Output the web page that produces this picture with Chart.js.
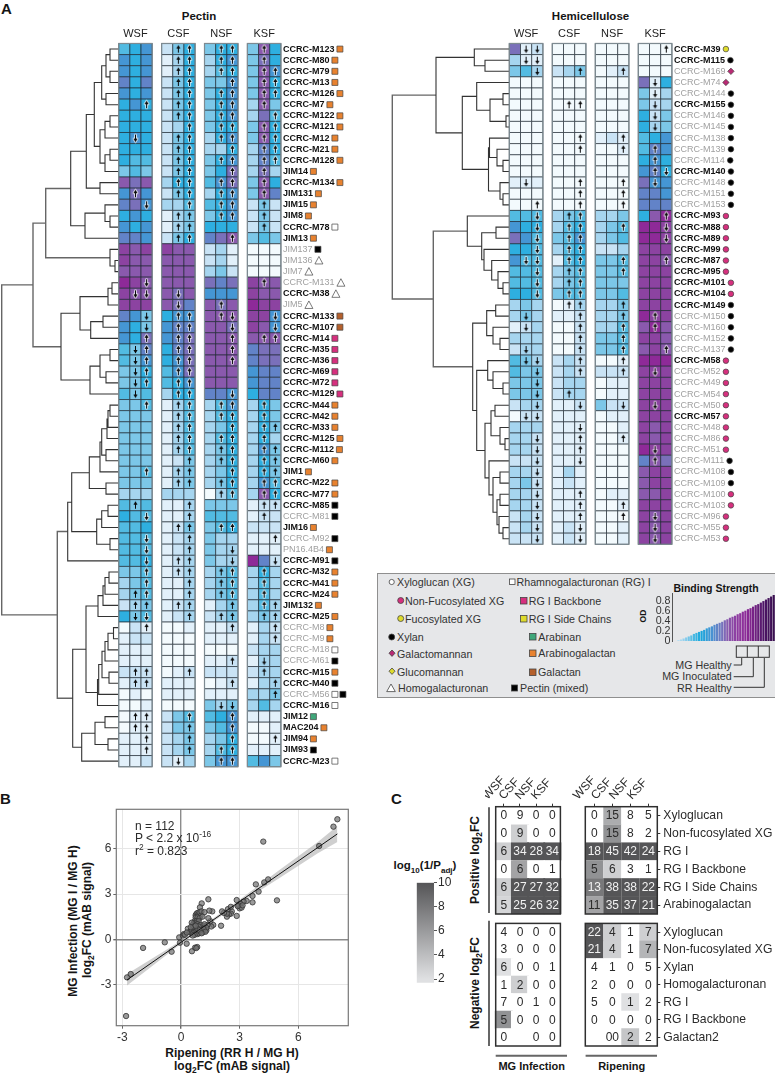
<!DOCTYPE html>
<html>
<head>
<meta charset="utf-8">
<title>Cell wall glycan profiling</title>
<script src="https://cdn.jsdelivr.net/npm/chart.js@4/dist/chart.umd.min.js"></script>
<style>
  html, body { margin: 0; padding: 0; background: #fff; overflow: hidden; }
  #page { position: relative; width: 775px; height: 1073px; overflow: hidden; font-family: "Liberation Sans", Arial, sans-serif; color: #2b2b2b; }
  canvas, svg { position: absolute; }
  .t { position: absolute; white-space: nowrap; line-height: 1; }
  .c { transform: translate(-50%, -50%); }
  .m { transform: translateY(-50%); }
  .v { transform: translate(-50%, -50%) rotate(-90deg); }
  .b { font-weight: bold; color: #151515; }
  .leg { font-size: 10.7px; color: #333; }
  sub, sup { font-size: 70%; line-height: 0; }
  #legendBox { position: absolute; left: 377px; top: 573px; width: 400px; height: 123px; background: #e6e7e9; border: 1.5px solid #8f8f8f; box-sizing: content-box; }
</style>
</head>
<body>
<div id="page">
  <div class="t b" style="left:1px;top:1px;font-size:15px">A</div>
  <div class="t b" style="left:0;top:791px;font-size:15px">B</div>
  <div class="t b" style="left:391px;top:791px;font-size:15px">C</div>
  <div class="t b c" style="left:199px;top:16.5px;font-size:11.5px">Pectin</div>
  <div class="t b c" style="left:590.5px;top:16.5px;font-size:11.5px">Hemicellulose</div>

  <div id="legendBox"></div>
  <svg width="775" height="1073" style="left:0;top:0">
    <g stroke="#444" stroke-width="0.8">
      <circle cx="391.7" cy="582" r="2.6" fill="#fff"/>
      <circle cx="400.7" cy="600.5" r="3" fill="#d6307e"/>
      <circle cx="400.7" cy="618.5" r="3" fill="#dedb2c"/>
      <circle cx="391.7" cy="637" r="3" fill="#000"/>
      <path d="M392 650l3 3.2-3 3.2-3-3.2z" fill="#b92a74"/>
      <path d="M392 668l3 3.2-3 3.2-3-3.2z" fill="#dedb2c"/>
      <path d="M391 684l4.3 7.6h-8.6z" fill="#fff"/>
      <rect x="509.5" y="579" width="5.5" height="5.5" fill="#fff"/>
      <rect x="520.5" y="597.5" width="6.5" height="6.5" fill="#d6307e"/>
      <rect x="520.5" y="615.5" width="6.5" height="6.5" fill="#dedb2c"/>
      <rect x="529.5" y="633.5" width="6.5" height="6.5" fill="#3fa77a"/>
      <rect x="529.5" y="650" width="6.5" height="6.5" fill="#e8822f"/>
      <rect x="529.5" y="669" width="6.5" height="6.5" fill="#b5602c"/>
      <rect x="511.5" y="685" width="6" height="6" fill="#000"/>
    </g>
    <g fill="none" stroke="#333" stroke-width="1">
      <rect x="736.3" y="646" width="33" height="11.3"/>
      <path d="M747.3 646v11.3M758.3 646v11.3"/>
      <path d="M733.7 665h8v-7M733.7 676.7h19.6v-18.7M733.7 687.3h30.6v-29.3"/>
    </g>
    <g stroke="#666" stroke-width="2">
      <path d="M489 807.3V913M489 920.7V1046"/>
      <path d="M495.7 1055.7H567M585.6 1055.7H657"/>
    </g>
  </svg>

  <div class="t m leg" style="left:397px;top:582px">Xyloglucan (XG)</div>
  <div class="t m leg" style="left:405px;top:600.5px">Non-Fucosylated XG</div>
  <div class="t m leg" style="left:405px;top:618.5px">Fucosylated XG</div>
  <div class="t m leg" style="left:397px;top:636.5px">Xylan</div>
  <div class="t m leg" style="left:397px;top:653.5px">Galactomannan</div>
  <div class="t m leg" style="left:397px;top:671.5px">Glucomannan</div>
  <div class="t m leg" style="left:398px;top:688px">Homogalacturonan</div>
  <div class="t m leg" style="left:516.5px;top:582px">Rhamnogalacturonan (RG) I</div>
  <div class="t m leg" style="left:528.7px;top:601px">RG I Backbone</div>
  <div class="t m leg" style="left:528.7px;top:619px">RG I Side Chains</div>
  <div class="t m leg" style="left:538.3px;top:636.7px">Arabinan</div>
  <div class="t m leg" style="left:538.3px;top:653.3px">Arabinogalactan</div>
  <div class="t m leg" style="left:538px;top:672.3px">Galactan</div>
  <div class="t m leg" style="left:520px;top:688px">Pectin (mixed)</div>
  <div class="t b c" style="left:716px;top:588px;font-size:10.5px">Binding Strength</div>
  <div class="t b v" style="left:642.7px;top:615.7px;font-size:8.5px">OD</div>
  <div class="t m leg" style="right:43.3px;top:664.7px">MG Healthy</div>
  <div class="t m leg" style="right:43.3px;top:676px">MG Inoculated</div>
  <div class="t m leg" style="right:43.3px;top:688px">RR Healthy</div>

  <div class="t b v" style="left:73px;top:921px;font-size:12px">MG Infection (MG I / MG H)</div>
  <div class="t b v" style="left:87px;top:920px;font-size:12px">log<sub>2</sub>FC (mAB signal)</div>
  <div class="t b c" style="left:232px;top:1053px;font-size:12px">Ripening (RR H / MG H)</div>
  <div class="t b c" style="left:232px;top:1066px;font-size:12px">log<sub>2</sub>FC (mAB signal)</div>

  <div class="t b v" style="left:475px;top:860px;font-size:12px">Positive log<sub>2</sub>FC</div>
  <div class="t b v" style="left:475px;top:983px;font-size:12px">Negative log<sub>2</sub>FC</div>
  <div class="t b c" style="left:531.7px;top:1066px;font-size:11px">MG Infection</div>
  <div class="t b c" style="left:621.7px;top:1066px;font-size:11px">Ripening</div>
  <div class="t b c" style="left:425px;top:866px;font-size:11.5px">log<sub>10</sub>(1/P<sub>adj</sub>)</div>

  <canvas id="pectinChart" width="350" height="775" style="left:0;top:0"></canvas>
  <canvas id="hemiChart" width="395" height="555" style="left:380px;top:0"></canvas>
  <canvas id="rampChart" width="130" height="60" style="left:645px;top:590px"></canvas>
  <canvas id="fcChart" width="265" height="245" style="left:90px;top:800px"></canvas>
  <canvas id="mgPosChart" width="90" height="146" style="left:485px;top:770px"></canvas>
  <canvas id="ripPosChart" width="205" height="146" style="left:570px;top:770px"></canvas>
  <canvas id="mgNegChart" width="90" height="132" style="left:485px;top:918px"></canvas>
  <canvas id="ripNegChart" width="205" height="132" style="left:570px;top:918px"></canvas>
  <canvas id="sigBar" width="55" height="110" style="left:405px;top:877px"></canvas>

  <div class="t m" style="left:135px;top:826px;font-size:12px">n = 112</div>
  <div class="t m" style="left:135px;top:838px;font-size:12px">P &lt; 2.2 x 10<sup>-16</sup></div>
  <div class="t m" style="left:135px;top:851px;font-size:12px">r<sup>2</sup> = 0.823</div>
</div>

<script>
// fractions across the top of each heatmap
const fractions = ['WSF', 'CSF', 'NSF', 'KSF'];

// ---- panel A, pectin antibodies
const pectinNames = ['CCRC-M123','CCRC-M80','CCRC-M79','CCRC-M13','CCRC-M126','CCRC-M7','CCRC-M122','CCRC-M121','CCRC-M12','CCRC-M21','CCRC-M128','JIM14','CCRC-M134','JIM131','JIM15','JIM8','CCRC-M78','JIM13','JIM137','JIM136','JIM7','CCRC-M131','CCRC-M38','JIM5','CCRC-M133','CCRC-M107','CCRC-M14','CCRC-M35','CCRC-M36','CCRC-M69','CCRC-M72','CCRC-M129','CCRC-M44','CCRC-M42','CCRC-M33','CCRC-M125','CCRC-M112','CCRC-M60','JIM1','CCRC-M22','CCRC-M77','CCRC-M85','CCRC-M81','JIM16','CCRC-M92','PN16.4B4','CCRC-M91','CCRC-M32','CCRC-M41','CCRC-M24','JIM132','CCRC-M25','CCRC-M8','CCRC-M9','CCRC-M18','CCRC-M61','CCRC-M15','CCRC-M40','CCRC-M56','CCRC-M16','JIM12','MAC204','JIM94','JIM93','CCRC-M23'];
const pectinGrey = ['JIM137','JIM136','JIM7','CCRC-M131','JIM5','CCRC-M81','CCRC-M92','PN16.4B4','CCRC-M8','CCRC-M9','CCRC-M18','CCRC-M61','CCRC-M56'];
const pectinMarks = ['ag','ag','ag','ag','ag','ag','ag','ag','ag','ag','ag','ag','ag','ag','ag','ag','rg','ag','pec','hg','hg','hg','hg','hg','gal','gal','bb','bb','bb','bb','bb','bb','ag','ag','ag','ag','ag','ag','ag','ag','ag','pec','pec','ag','pec','ag','pec','ag','ag','ag','ag','ag','ag','ag','rg','pec','ag','pec','rg+pec','rg','ara','ag','ag','pec','rg'];
// binding strength as a step on the OD ramp, 0 palest .. 12 deepest purple
const pectinOD = [
  [5,6,7, 2,4,6, 4,6,6, 4,10,6],[7,6,7, 1,3,6, 3,6,7, 4,9,6],[7,6,7, 1,3,6, 3,5,6, 4,10,7],[8,6,8, 2,4,6, 4,4,7, 4,10,6],
  [7,6,7, 2,4,6, 4,6,7, 4,10,6],[6,7,6, 2,4,6, 4,6,7, 3,10,4],[6,6,6, 2,4,6, 4,6,7, 3,9,5],[6,6,6, 2,3,6, 4,6,6, 4,10,6],
  [6,7,6, 2,4,6, 3,6,7, 4,10,6],[6,6,6, 2,4,6, 3,3,6, 3,8,6],[6,5,5, 2,4,6, 4,6,7, 3,8,5],[4,5,4, 2,4,6, 4,6,9, 3,9,3],
  [10,9,10, 3,6,6, 5,7,9, 4,10,6],[7,9,7, 2,4,6, 3,6,7, 4,10,8],[8,9,7, 3,3,5, 5,6,7, 2,4,2],[6,7,6, 1,3,4, 4,6,7, 2,4,2],
  [7,6,7, 1,3,4, 6,6,6, 2,4,2],[8,8,7, 2,4,6, 8,9,10, 4,5,4],[11,10,11, 11,10,10, 2,3,1, 0,0,0],[11,10,10, 10,10,10, 2,3,1, 0,0,0],
  [10,10,10, 10,10,10, 3,4,2, 0,0,0],[12,11,10, 10,10,10, 9,8,9, 11,10,10],[11,10,10, 10,9,10, 7,7,7, 11,10,10],[11,11,11, 10,9,8, 10,9,10, 12,11,11],
  [8,7,4, 6,7,7, 10,10,10, 11,11,7],[7,6,4, 7,8,8, 10,10,9, 11,10,7],[7,6,9, 7,8,9, 10,10,10, 10,10,10],[5,4,8, 6,8,9, 10,10,10, 8,9,9],
  [5,4,7, 6,7,9, 10,10,10, 8,9,9],[4,4,6, 5,7,9, 10,10,10, 7,8,8],[4,4,6, 5,6,7, 10,10,10, 7,8,8],[5,4,5, 3,6,6, 8,8,7, 6,8,8],
  [4,4,5, 1,3,5, 3,5,7, 3,6,4],[4,4,4, 1,3,5, 3,5,6, 3,6,4],[4,4,4, 1,3,5, 3,4,6, 3,6,4],[4,4,4, 1,3,5, 3,5,6, 3,6,3],
  [4,4,4, 1,3,5, 3,4,6, 3,7,4],[4,4,4, 1,2,4, 3,4,6, 3,6,4],[4,4,5, 1,3,4, 3,4,6, 3,6,4],[4,4,4, 1,3,4, 3,4,6, 3,7,5],
  [3,3,3, 3,3,3, 0,3,5, 3,10,6],[5,4,5, 1,1,3, 4,4,4, 1,2,2],[6,5,5, 1,1,3, 5,5,5, 1,2,2],[5,5,6, 1,2,4, 4,5,6, 2,2,2],
  [5,5,5, 1,2,3, 4,3,3, 1,1,1],[5,5,5, 1,2,3, 4,3,3, 1,1,1],[5,5,6, 1,2,3, 4,3,3, 12,8,2],[4,4,5, 1,2,3, 3,4,5, 3,6,3],
  [3,4,5, 1,1,3, 3,4,5, 3,5,3],[3,4,5, 1,1,3, 3,4,5, 3,5,3],[2,3,4, 1,2,3, 1,3,4, 3,5,3],[6,4,5, 1,2,3, 2,3,4, 3,4,3],
  [0,2,1, 0,0,1, 1,1,2, 1,3,2],[1,2,2, 0,0,0, 1,1,1, 1,3,2],[1,1,1, 0,0,0, 0,0,0, 2,3,3],[1,1,1, 0,0,0, 1,1,2, 1,3,3],
  [2,2,2, 0,1,2, 2,2,2, 2,3,3],[1,2,2, 1,1,1, 0,1,2, 1,3,3],[0,1,0, 1,1,1, 1,1,1, 3,3,4],[0,0,1, 0,0,0, 4,3,4, 3,5,3],
  [0,1,1, 2,4,5, 5,6,7, 1,1,1],[0,1,1, 2,4,4, 4,5,7, 0,0,1],[1,1,1, 2,3,4, 3,4,6, 0,0,1],[1,1,1, 2,3,4, 3,5,6, 1,1,1],[1,1,2, 2,1,3, 4,7,7, 5,7,4]
];
// u / d = significant change up or down
const pectinArrows = [
  '... .uu .uu .u.','... .uu .uu .u.','... .uu .uu .uu','... .uu ..u .uu','... .uu .uu .uu','..u .uu .uu .u.','... .uu .uu ..u','... ..u .uu .uu',
  '.d. .uu .uu .uu','... .uu ..u .uu','... .uu .uu .uu','... .uu ..u .u.','... .uu .uu .u.','.u. .uu .uu .u.','..d ..u .uu .u.','... .uu .uu .u.',
  '... .uu ... .u.','... .uu ..u ...','... ... ... ...','... ... ... ...','... ... ... ...','..d ... ... .u.','.dd .d. ... ...','... .d. .u. ...',
  '..d .uu .ud ..d','..d .uu ..d ..d','..u .uu ..u .uu','.du .uu ..u ...','.du .uu ..u ...','.du .uu ... ...','.du .uu ... ...','.d. .uu ..d ...',
  '..u .uu .uu .u.','... .uu .uu .u.','... .uu ..u .uu','... .uu .uu .u.','... .uu .uu .uu','... ..u .uu .uu','..u .uu ..u .uu','... .uu .uu .uu',
  '... ... .uu .uu','.u. ..u ... .uu','..d ..u ... .u.','... .uu .uu ...','..d ..u ... ..u','..d ..u ..d ...','..d .uu ..d ..d','..u .uu .uu .u.',
  '..u ..u .uu .u.','.uu ..u .uu .u.','.uu .uu ..u .uu','.dd ..u .uu .uu','..u ... ..u ..u','... ... ... ..u','... ... ... ...','... ... ..u .d.',
  '.uu ..u ... .u.','.uu ... ..u ..u','... ... ... ..u','... ... .dd ...','.uu ..u ..u ...','.uu ..u ..u ...','..u ..u ..u ..u','..u ..u .uu ...','... .d. .uu ...'
];
// merge heights of the clustering, [height, upper, lower], 0 = next antibody down
const pectinTree = [1.7,
  [33,
    [45.7,
      [70.7,
        [86.3,
          [94.3,
            [101.7, [106, [110,0,0], [110,0,0]], [106,0,0]],
            [100, [105, [110,0,0], 0], [105, [110,0,0], 0]]],
          [100,0,0]],
        [85, [105, 0, [110,0,0]], 0]],
      [110, 0, [115,0,0]]],
    [61,
      [80, [108, [112,0,0], 0], [90.7, [103,0,0], 0]],
      [90, [100, [110,0,0], [106,0,0]], 0]]],
  [57.3,
    [67.7,
      [71.7,
        [89.3, [100, [101.7, [107, [108, [110,0,0], 0], 0], [106,0,0]], 0], [106,0,0]],
        [96.7, [101.7, [108,0,0], 0], [110,0,0]]],
      0],
    [72.7,
      [86,
        [98, [103, [105, [109,0,0], 0], 0], 0],
        [97.5, [98.7, [102, [105, [108, [113.5,0,0], 0], 0], [109,0,0]], 0], 0]],
      [81.7, [95, [105,0,0], [108,0,0]], 0]]]
];

// ---- panel A, hemicellulose antibodies
const hemiNames = ['CCRC-M39','CCRC-M115','CCRC-M169','CCRC-M74','CCRC-M144','CCRC-M155','CCRC-M146','CCRC-M145','CCRC-M138','CCRC-M139','CCRC-M114','CCRC-M140','CCRC-M148','CCRC-M151','CCRC-M153','CCRC-M93','CCRC-M88','CCRC-M89','CCRC-M99','CCRC-M87','CCRC-M95','CCRC-M101','CCRC-M104','CCRC-M149','CCRC-M150','CCRC-M160','CCRC-M152','CCRC-M137','CCRC-M58','CCRC-M52','CCRC-M49','CCRC-M54','CCRC-M50','CCRC-M57','CCRC-M48','CCRC-M86','CCRC-M51','CCRC-M111','CCRC-M108','CCRC-M109','CCRC-M100','CCRC-M103','CCRC-M96','CCRC-M55','CCRC-M53'];
const hemiGrey = ['CCRC-M169','CCRC-M74','CCRC-M144','CCRC-M146','CCRC-M145','CCRC-M138','CCRC-M139','CCRC-M114','CCRC-M148','CCRC-M151','CCRC-M153','CCRC-M150','CCRC-M160','CCRC-M152','CCRC-M137','CCRC-M52','CCRC-M49','CCRC-M54','CCRC-M50','CCRC-M48','CCRC-M86','CCRC-M51','CCRC-M111','CCRC-M108','CCRC-M109','CCRC-M100','CCRC-M103','CCRC-M96','CCRC-M55','CCRC-M53'];
const hemiMarks = ['fxg','xyl','gm','gm','xyl','xyl','xyl','xyl','xyl','xyl','xyl','xyl','xyl','xyl','xyl','nxg','nxg','nxg','nxg','nxg','nxg','nxg','nxg','xyl','xyl','xyl','xyl','xyl','nxg','nxg','nxg','nxg','nxg','nxg','nxg','nxg','nxg','xyl','xyl','xyl','nxg','nxg','nxg','nxg','nxg'];
const hemiOD = [
  [9,1,2, 0,0,0, 0,0,0, 0,0,0],[3,1,1, 0,0,0, 0,0,0, 0,0,0],[4,5,3, 2,3,4, 0,1,2, 0,0,0],[0,0,0, 0,0,0, 0,0,0, 9,1,6],
  [0,0,0, 0,0,0, 0,0,0, 4,1,3],[0,0,0, 0,0,0, 0,0,0, 4,2,3],[0,0,0, 0,0,0, 0,0,0, 6,2,4],[0,0,0, 0,0,0, 0,0,0, 6,3,4],
  [0,0,0, 0,0,0, 1,2,1, 5,6,7],[0,0,0, 0,0,0, 0,0,1, 5,8,7],[0,0,0, 0,0,0, 0,0,0, 6,7,6],[0,0,0, 0,0,0, 0,0,0, 7,8,6],
  [1,1,1, 0,0,0, 0,0,0, 9,7,7],[0,0,0, 0,0,0, 0,0,0, 8,8,7],[0,0,0, 0,0,0, 0,0,0, 8,8,8],[5,5,5, 3,4,5, 3,3,4, 6,10,12],
  [7,6,6, 3,5,6, 3,4,5, 12,12,11],[9,7,5, 4,5,7, 3,4,5, 12,12,11],[6,6,5, 3,5,6, 2,2,3, 11,11,11],[7,5,5, 1,5,6, 4,4,5, 11,11,10],
  [5,5,5, 3,4,5, 4,4,5, 11,11,11],[5,5,5, 3,4,5, 4,4,4, 11,11,11],[6,6,5, 4,5,5, 4,4,5, 11,11,11],[3,4,3, 0,1,3, 3,3,4, 11,11,11],
  [3,4,3, 1,1,2, 3,3,4, 12,11,11],[1,2,3, 0,0,2, 3,3,5, 10,12,10],[3,3,3, 0,0,2, 4,4,5, 11,11,10],[2,3,3, 0,0,2, 4,4,5, 10,11,10],
  [5,4,3, 2,3,2, 0,0,1, 12,12,12],[5,4,4, 2,3,2, 2,2,2, 11,11,11],[4,4,4, 2,3,3, 0,1,1, 11,11,11],[4,4,4, 2,3,3, 0,1,1, 11,11,11],
  [2,3,3, 1,1,2, 4,2,2, 11,11,11],[0,2,2, 1,1,1, 0,1,1, 11,11,11],[3,3,3, 1,1,1, 0,0,1, 11,10,11],[3,3,2, 1,1,1, 0,0,1, 11,10,11],
  [3,3,2, 1,1,1, 0,0,0, 12,11,11],[2,2,2, 1,1,1, 0,0,0, 8,10,9],[3,3,2, 1,3,1, 0,0,0, 10,11,11],[3,4,2, 1,2,1, 0,0,0, 10,11,11],
  [3,3,2, 1,1,1, 0,1,1, 10,10,11],[3,3,2, 1,1,1, 0,0,1, 11,11,11],[2,3,2, 1,1,1, 0,0,0, 11,10,11],[2,3,2, 1,2,1, 0,0,1, 11,10,11],[2,2,2, 1,2,1, 0,0,1, 11,10,11]
];
const hemiArrows = [
  '.dd ... ... ..u','.dd ... ... ...','..d ..u ..u ...','... ... ... .d.','... ... ... .d.','... .uu ... .d.','... ... ... .d.','... ... ... .d.',
  '... ..u ..u ...','... ..u ..u .u.','... ... ... .u.','... ... ... .ud','.d. ..u ..u .d.','... ..u ..u ...','..u ..u ..u ...','..d .uu ... ..u',
  '..d .uu ..u ..d','..d .uu ... ..d','..d .uu ... ...','.dd .uu ..u ..u','..d .uu ..u ...','..d .uu ... ...','..d .uu ... ...','... .uu ..u ...',
  '.d. ..u ..u .u.','.d. ..u ..u .u.','... ..u ..u ...','.d. ..u ..u ..u','.dd ..u ..u ...','..d ..u ..u .d.','..d ... ... ...','..d .u. ... ...',
  '..d ..d ..d .d.','.dd ... ... ...','... ..d ... ...','..d ..u ..u ...','..d ..u ... .d.','..d ..d ... .u.','..d ... ... ...','..d ... ... ...',
  '..d ..u ... ...','..d ..u ..u ...','..d ..u ..u .d.','..d ..d ... .d.','..d ..d ... .d.'
];
const hemiTree = [392.3,
  [436,
    [474.3, 0, [485,0,0]],
    [462.3,
      [476.7, 0, [490, [503,0,0], [506,0,0]]],
      [488.5, [489.5, 0, [497, 0, [503,0,0]]], [500, 0, [503,0,0]]]]],
  [433.3,
    [467.3, 0, [481.7, [496,0,0], [484, 0, [491.7, 0, [498, 0, [503,0,0]]]]]],
    [472.7,
      [486.7, [495.7,0,0], [493, 0, [500,0,0]]],
      [476.7,
        [487.7, 0, [493, 0, [503,0,0]]],
        [485,
          [491, [495,0,0], [500, 0, [505,0,0]]],
          [489, 0, [493, [500,0,0], [497, [500,0,0], [499, 0, [503,0,0]]]]]]]]]
];

// ---- binding strength key
const rampOD = [0,0,0.02,0.03,0.05,0.07,0.09,0.11,0.14,0.16,0.18,0.2,0.22,0.25,0.27,0.29,0.32,0.34,0.36,0.38,0.41,0.43,0.46,0.48,0.5,0.53,0.55,0.58,0.6,0.63,0.65,0.68,0.71,0.73,0.76,0.79,0.82,0.85,0.88,0.91];
const rampTicks = [0, 0.2, 0.4, 0.6, 0.8];

// ---- panel B, log2FC per antibody
const ripeningFC = [8,7.8,7.07,4.21,3.83,4.26,4.46,3.97,3.66,3.66,4.91,3.36,2.85,1.4,1.06,0.97,-2.81,-2.76,-2.57,-1.94,-0.83,-0.48,-0.09,-0.05,0.29,0.56,0.72,0.83,0.78,
  3.2,3.05,3,2.95,3.1,2.9,3.15,2.85,2.6,2.55,2.4,2.45,2.35,2.35,2.55,2.2,2.1,2.05,1.65,1.55,1.6,1.45,1.5,1.4,
  0.75,0.8,0.85,0.9,0.95,1,0.75,0.85,0.95,1.05,1.2,1.1,0.7,0.8,0.9,0.65,0.75,0.6,0.85,0.55,
  0.1,0.15,0.2,0.35,0.45,0.5,0.55,0.6,0.65,0.7,0.75,0.8,0.85,0.9,0.95,1,1.05,1.1,1.15,1.2,1.25,1.3,1,0.9,1.35,1.1,0.7,0.6,1.2,0.3,1.3,
  0.65,0.85,1.15,0.95,0.5,1.25,0.75,1.05];
const infectionFC = [7.95,7.46,6.18,6.47,3.64,3.77,3.97,3.16,2.87,2.45,2.58,2.54,2.6,2.65,2.38,2.12,-5.08,-2.52,-2.3,-0.57,-0.2,-0.82,0.13,-0.22,-0.29,-0.79,-0.55,-0.51,-0.58,
  2.5,2.35,2.05,2.25,2.1,2.2,2.25,1.55,1.85,1.7,2,1.65,1.5,1.7,2.15,1.75,1.85,0.9,0.95,0.85,1.85,1.9,1.2,1.4,
  1.6,1.7,1.75,1.65,1.8,1.55,1.45,1.45,1.4,1.85,1.8,1.5,1.2,1.2,1.2,1.05,1.05,0.95,1,1.1,
  0.25,0.35,0.3,0.7,0.5,0.45,0.6,0.4,0.65,0.5,0.7,0.55,0.35,0.4,0.75,0.5,0.85,0.6,0.9,0.55,0.7,0.6,0.95,0.85,0.95,0.45,0.3,0.25,1,0.45,0.75,
  0.85,0.7,0.7,0.6,0.8,0.5,0.9,0.4];
const fitX = [-2.76, 0, 1, 3, 5, 7, 8];
const fitY = [-2.69, -0.2, 0.7, 2.5, 4.29, 6.08, 6.98];
const fitUpper = [-2.3, -0.1, 0.8, 2.62, 4.55, 6.45, 7.5];
const fitLower = [-3.05, -0.3, 0.6, 2.38, 4.03, 5.7, 6.45];
const fcTicks = [-3, 0, 3, 6];

// ---- panel C, counts of changed antibodies and their enrichment
const posClasses = ['Xyloglucan','Non-fucosylated XG','RG I','RG I Backbone','RG I Side Chains','Arabinogalactan'];
const negClasses = ['Xyloglucan','Non-fucosylated XG','Xylan','Homogalacturonan','RG I','RG I Backbone','Galactan2'];
const mgPosCounts = [[0,9,0,0],[0,9,0,0],[6,34,28,34],[0,6,0,1],[6,27,27,32],[5,25,26,32]];
const mgPosSig = [[0,0,0,0],[0,3,0,0],[3,10,10,10],[0,5.5,0,0],[3,10,10,10],[2.6,10,10,10]];
const ripPosCounts = [[0,15,8,5],[0,15,8,2],[18,45,42,24],[5,6,3,1],[13,38,38,22],[11,35,37,21]];
const ripPosSig = [[0,5,0,0],[0,6.5,0,0],[10,10,10,10],[6.5,3,0,0],[8,10,10,10],[5.5,10,10,10]];
const mgNegCounts = [[4,0,0,0],[3,0,0,0],[6,0,0,1],[1,2,0,0],[7,0,1,0],[5,0,0,0],[0,'',0,0]];
const mgNegSig = [[0,0,0,0],[0,0,0,0],[2,0,0,0],[0,3,0,0],[0,0,0,0],[6.5,0,0,0],[0,0,0,0]];
const ripNegCounts = [[22,4,1,7],[21,4,1,7],[4,1,0,5],[2,0,0,0],[5,0,1,2],[0,0,0,0],['','00',2,2]];
const ripNegSig = [[10,3,0,3],[10,3,0,4.5],[0,0,0,0],[0,0,0,0],[0,0,1.8,0],[0,0,0,0],[0,0,3.5,0]];
const sigTicks = [2, 4, 6, 8, 10];

// colours
const odColors = ['#f3fafd','#e2f0fa','#c9e3f5','#a6d5ef','#7cc7e8','#52bbe2','#2eafe0','#4596d4','#6283c8','#7a70ba','#8a59ad','#8c43a1','#8e2a98'];
const rampStops = ['#d6ecf8','#9fd4ef','#5cbfe5','#17a8dd','#3f97d6','#6a80c5','#8a59ad','#8e3aa0','#8e2a98','#6f1f80','#4a1464','#3a0f50'];
const markStyles = {
  ag: ['sq', '#e8822f'], gal: ['sq', '#b5602c'], bb: ['sq', '#d6307e'], ara: ['sq', '#3fa77a'], rg: ['sq', '#fff'], pec: ['sq', '#000'],
  hg: ['tri', '#fff'], xyl: ['dot', '#000'], nxg: ['dot', '#d6307e'], fxg: ['dot', '#dedb2c'], gm: ['dia', '#b92a74']
};

Chart.defaults.font.family = '"Liberation Sans", Arial, sans-serif';
Chart.defaults.color = '#2b2b2b';
Chart.defaults.animation = false;
Chart.defaults.responsive = false;
Chart.defaults.layout.autoPadding = false;
Chart.defaults.plugins.legend.display = false;
Chart.defaults.plugins.tooltip.enabled = false;

function mix(a, b, t) {
  const p = h => [1, 3, 5].map(i => parseInt(h.slice(i, i + 2), 16));
  const A = p(a), B = p(b);
  return 'rgb(' + A.map((v, i) => Math.round(v + (B[i] - v) * t)).join(',') + ')';
}

function sigColor(v) {
  if (!v) return '#ffffff';
  return mix('#dfe0e2', '#555557', Math.min(1, Math.max(0, (v - 2) / 8)));
}

function rampColor(t) {
  const f = t * (rampStops.length - 1), i = Math.min(Math.floor(f), rampStops.length - 2);
  return mix(rampStops[i], rampStops[i + 1], f - i);
}

function arrowIcon(up, halo) {
  const c = document.createElement('canvas');
  c.width = 9; c.height = 11;
  const g = c.getContext('2d');
  if (!up) { g.translate(0, 11); g.scale(1, -1); }
  const shape = () => {
    g.beginPath();
    g.moveTo(4.5, 1.5); g.lineTo(6.6, 5); g.lineTo(5, 5); g.lineTo(5, 9);
    g.lineTo(4, 9); g.lineTo(4, 5); g.lineTo(2.4, 5); g.closePath();
  };
  if (halo) {
    g.strokeStyle = 'rgba(255,255,255,0.85)'; g.lineWidth = 1.6; g.lineJoin = 'round';
    shape(); g.stroke();
  }
  g.fillStyle = '#0a0a0a';
  shape(); g.fill();
  return c;
}
const arrowIcons = { u: arrowIcon(true, false), d: arrowIcon(false, false), U: arrowIcon(true, true), D: arrowIcon(false, true) };

// dendrogram as two broken lines, the deep merges come out greyer and heavier
function treePaths(tree, leafX, deepBelow) {
  const fine = [], deep = [];
  let row = 0;
  function walk(node) {
    if (node === 0) return { x: leafX, y: row++ };
    const a = walk(node[1]), b = walk(node[2]);
    const out = node[0] < deepBelow ? deep : fine;
    out.push({ x: a.x, y: a.y }, { x: node[0], y: a.y }, { x: node[0], y: b.y }, { x: b.x, y: b.y }, { x: NaN, y: NaN });
    return { x: node[0], y: (a.y + b.y) / 2 };
  }
  walk(tree);
  return { fine, deep };
}

function drawMark(ctx, kind, x, y) {
  const s = markStyles[kind];
  ctx.fillStyle = s[1];
  ctx.strokeStyle = '#444';
  ctx.lineWidth = 0.7;
  ctx.beginPath();
  if (s[0] === 'sq') ctx.rect(x, y - 3, 6, 6);
  else if (s[0] === 'dot') ctx.arc(x + 3, y, 2.8, 0, Math.PI * 2);
  else if (s[0] === 'dia') { ctx.moveTo(x + 3, y - 3.2); ctx.lineTo(x + 6.2, y); ctx.lineTo(x + 3, y + 3.2); ctx.lineTo(x - 0.2, y); ctx.closePath(); }
  else { ctx.moveTo(x + 4, y - 4); ctx.lineTo(x + 8, y + 3.5); ctx.lineTo(x, y + 3.5); ctx.closePath(); }
  ctx.fill();
  ctx.stroke();
}

// one panel of the antibody heatmap: tree, cells, arrows, names with class markers
function antibodyChart(id, cfg) {
  const cellW = (cfg.groupLeft[1] - cfg.groupLeft[0] - cfg.groupGap) / 3;
  const n = cfg.names.length;
  const cellPts = [], cellCols = [], arrowPts = [], arrowStyles = [];
  cfg.od.forEach((row, r) => {
    const marks = cfg.arrows[r].replace(/ /g, '');
    row.forEach((v, i) => {
      const x = cfg.groupLeft[Math.floor(i / 3)] + (i % 3 + 0.5) * cellW;
      cellPts.push({ x, y: r });
      cellCols.push(odColors[v]);
      if (marks[i] !== '.') {
        arrowPts.push({ x, y: r });
        arrowStyles.push(arrowIcons[v >= 5 ? marks[i].toUpperCase() : marks[i]]);
      }
    });
  });
  const marksPlugin = {
    id: 'marks',
    afterDraw(chart) {
      const ctx = chart.ctx, yS = chart.scales.y, a = chart.chartArea;
      ctx.save();
      // grey frame round each fraction
      ctx.strokeStyle = '#7d8a91';
      ctx.lineWidth = 1.2;
      cfg.groupLeft.forEach(left => {
        const x0 = chart.scales.x.getPixelForValue(left);
        const x1 = chart.scales.x.getPixelForValue(left + 3 * cellW);
        ctx.strokeRect(x0, a.top, x1 - x0, a.bottom - a.top);
      });
      cfg.names.forEach((name, i) => {
        ctx.font = (cfg.grey.includes(name) ? '' : 'bold ') + '9px "Liberation Sans", Arial, sans-serif';
        let x = yS.left + 2 + ctx.measureText(name).width + 2.4;
        cfg.marks[i].split('+').forEach(kind => {
          drawMark(ctx, kind, x, yS.getPixelForValue(i));
          x += 8;
        });
      });
      ctx.restore();
    }
  };
  const canvas = document.getElementById(id);
  const tree = treePaths(cfg.tree, cfg.groupLeft[0], cfg.deepBelow);
  return new Chart(canvas, {
    type: 'scatter',
    plugins: [marksPlugin],
    data: {
      datasets: [
        { data: arrowPts, pointStyle: arrowStyles, pointRadius: 4, clip: false },
        { data: cellPts, pointStyle: 'rect', pointRadius: cellW / Math.SQRT2, backgroundColor: cellCols, borderColor: 'rgba(28,38,48,0.82)', borderWidth: 0.8, clip: false },
        { data: tree.fine, showLine: true, pointRadius: 0, borderColor: '#333', borderWidth: 1.1, clip: false },
        { data: tree.deep, showLine: true, pointRadius: 0, borderColor: '#666', borderWidth: 1.4, clip: false }
      ]
    },
    options: {
      layout: { padding: { top: 0, left: 0, right: 0, bottom: canvas.height - cfg.bottom } },
      scales: {
        x: {
          type: 'linear', position: 'top', min: cfg.xMin, max: cfg.xMax,
          grid: { display: false, drawTicks: false }, border: { display: false },
          afterBuildTicks: s => { s.ticks = cfg.groupLeft.map(l => ({ value: l + 1.5 * cellW })); },
          afterFit: s => { s.height = cfg.top; s.paddingLeft = s.paddingRight = 0; },
          ticks: { autoSkip: false, maxRotation: 0, padding: 2.5, color: '#222', font: { size: 11 }, callback: (v, i) => fractions[i] }
        },
        y: {
          type: 'linear', position: 'right', min: -0.5, max: n - 0.5, reverse: true,
          grid: { display: false, drawTicks: false }, border: { display: false },
          afterBuildTicks: s => { s.ticks = cfg.names.map((_, i) => ({ value: i })); },
          afterFit: s => { s.width = canvas.width - (cfg.xMax - cfg.xMin); s.paddingTop = s.paddingBottom = 0; },
          ticks: {
            autoSkip: false, padding: 2, callback: (v, i) => cfg.names[i],
            color: c => cfg.grey.includes(cfg.names[c.index]) ? '#a0a0a0' : '#111',
            font: c => ({ size: 9, weight: cfg.grey.includes(cfg.names[c.index]) ? 'normal' : 'bold' })
          }
        }
      }
    }
  });
}

antibodyChart('pectinChart', {
  names: pectinNames, grey: pectinGrey, marks: pectinMarks, od: pectinOD, arrows: pectinArrows, tree: pectinTree,
  groupLeft: [118.7, 161.6, 204.5, 247.4], groupGap: 9.4, xMin: 0, xMax: 281, top: 43.5, bottom: 766.7, deepBelow: 58
});
antibodyChart('hemiChart', {
  names: hemiNames, grey: hemiGrey, marks: hemiMarks, od: hemiOD, arrows: hemiArrows, tree: hemiTree,
  groupLeft: [509.3, 552.3, 595.3, 638.3], groupGap: 9.4, xMin: 380, xMax: 672, top: 43.5, bottom: 544.3, deepBelow: 434
});

// binding strength ramp
new Chart(document.getElementById('rampChart'), {
  type: 'bar',
  data: {
    labels: rampOD.map((_, i) => i),
    datasets: [{ data: rampOD, backgroundColor: rampOD.map((_, i) => rampColor(i / (rampOD.length - 1))), barPercentage: 0.85, categoryPercentage: 1 }]
  },
  options: {
    layout: { padding: { top: 3, bottom: 9 } },
    scales: {
      x: { display: false },
      y: {
        min: 0, max: 0.95,
        grid: { display: false, drawTicks: false }, border: { color: '#555' },
        afterBuildTicks: s => { s.ticks = rampTicks.map(value => ({ value })); },
        afterFit: s => { s.width = 27; s.paddingTop = s.paddingBottom = 0; },
        ticks: { autoSkip: false, padding: 1.5, color: '#333', font: { size: 10.7 }, callback: v => String(v) }
      }
    }
  }
});

// log2FC scatter
const framePlugin = {
  id: 'frame',
  afterDraw(chart) {
    const a = chart.chartArea, ctx = chart.ctx;
    ctx.save();
    ctx.strokeStyle = chart.options.frameColor || '#777';
    ctx.lineWidth = chart.options.frameWidth || 1.2;
    ctx.strokeRect(a.left, a.top, a.right - a.left, a.bottom - a.top);
    ctx.restore();
  }
};
const zip = (xs, ys) => xs.map((x, i) => ({ x, y: ys[i] }));
new Chart(document.getElementById('fcChart'), {
  type: 'scatter',
  plugins: [framePlugin],
  data: {
    datasets: [
      { data: zip(fitX, fitY), showLine: true, pointRadius: 0, borderColor: '#111', borderWidth: 1 },
      { data: zip(ripeningFC, infectionFC), pointRadius: 2.7, backgroundColor: 'rgba(115,115,115,0.72)', borderColor: '#333', borderWidth: 0.8 },
      { data: zip(fitX, fitUpper), showLine: true, pointRadius: 0, borderWidth: 0, fill: '+1', backgroundColor: 'rgba(175,175,175,0.6)' },
      { data: zip(fitX, fitLower), showLine: true, pointRadius: 0, borderWidth: 0 }
    ]
  },
  options: {
    layout: { padding: { top: 9.3, right: 6.7 } },
    scales: {
      x: {
        min: -3.31, max: 8.56,
        grid: { color: c => c.tick && c.tick.value === 0 ? '#8c8c8c' : '#e6e6e6', lineWidth: c => c.tick && c.tick.value === 0 ? 1.4 : 1, tickColor: '#666', tickLength: 3 },
        border: { display: false },
        afterBuildTicks: s => { s.ticks = fcTicks.map(value => ({ value })); },
        afterFit: s => { s.height = 19.3; s.paddingLeft = s.paddingRight = 0; },
        ticks: { padding: 2, color: '#333', font: { size: 12 }, maxRotation: 0 }
      },
      y: {
        min: -5.72, max: 8.61,
        grid: { color: c => c.tick && c.tick.value === 0 ? '#8c8c8c' : '#e6e6e6', lineWidth: c => c.tick && c.tick.value === 0 ? 1.4 : 1, tickColor: '#666', tickLength: 3 },
        border: { display: false },
        afterBuildTicks: s => { s.ticks = fcTicks.map(value => ({ value })); },
        afterFit: s => { s.width = 26.3; s.paddingTop = s.paddingBottom = 0; },
        ticks: { padding: 2, color: '#333', font: { size: 12 } }
      }
    }
  }
});

// count tables of panel C
function countChart(id, cfg) {
  const canvas = document.getElementById(id);
  const classes = cfg.classes || [];
  const pts = [], cols = [];
  cfg.sig.forEach((row, r) => row.forEach((v, c) => { pts.push({ x: c, y: r }); cols.push(sigColor(v)); }));
  const numbers = {
    id: 'numbers',
    afterDatasetsDraw(chart) {
      const ctx = chart.ctx, xS = chart.scales.x, yS = chart.scales.y;
      ctx.save();
      ctx.font = '12px "Liberation Sans", Arial, sans-serif';
      ctx.textAlign = 'center';
      ctx.textBaseline = 'middle';
      cfg.counts.forEach((row, r) => row.forEach((v, c) => {
        ctx.fillStyle = cfg.sig[r][c] >= 8 ? '#f2f2f2' : '#2b2b2b';
        ctx.fillText(String(v), xS.getPixelForValue(c), yS.getPixelForValue(r) + 0.5);
      }));
      ctx.restore();
    }
  };
  return new Chart(canvas, {
    type: 'scatter',
    plugins: [numbers, framePlugin],
    data: { datasets: [{ data: pts, pointStyle: 'rect', pointRadius: cfg.cell / Math.SQRT2, backgroundColor: cols, borderWidth: 0, clip: false }] },
    options: {
      frameColor: '#2f2f2f', frameWidth: 1.5,
      layout: { padding: { top: cfg.showX ? 0 : cfg.top, left: cfg.left, right: cfg.classes ? 0 : canvas.width - cfg.left - 4 * cfg.cell, bottom: canvas.height - cfg.bottom } },
      scales: {
        x: {
          type: 'linear', position: 'top', min: -0.5, max: 3.5, display: cfg.showX,
          grid: { drawOnChartArea: false, tickLength: 3, tickColor: '#333' }, border: { display: false },
          afterBuildTicks: s => { s.ticks = fractions.map((_, i) => ({ value: i })); },
          afterFit: s => { s.height = cfg.top; s.paddingLeft = s.paddingRight = 0; },
          ticks: { autoSkip: false, minRotation: 48, maxRotation: 48, labelOffset: -8, padding: 1, color: '#2b2b2b', font: { size: 12 }, callback: (v, i) => fractions[i] }
        },
        y: {
          type: 'linear', position: 'right', min: -0.5, max: cfg.sig.length - 0.5, reverse: true, display: !!cfg.classes,
          grid: { drawOnChartArea: false, tickLength: 3, tickColor: '#333' }, border: { display: false },
          afterBuildTicks: s => { s.ticks = classes.map((_, i) => ({ value: i })); },
          afterFit: s => { s.width = canvas.width - cfg.left - 4 * cfg.cell; s.paddingTop = s.paddingBottom = 0; },
          ticks: { autoSkip: false, padding: 3, color: '#2b2b2b', font: { size: 12.2 }, callback: (v, i) => classes[i] }
        }
      }
    }
  });
}
countChart('mgPosChart', { counts: mgPosCounts, sig: mgPosSig, showX: true, top: 36.7, left: 10.7, cell: 18, bottom: 144 });
countChart('ripPosChart', { counts: ripPosCounts, sig: ripPosSig, showX: true, classes: posClasses, top: 36.7, left: 15.3, cell: 18, bottom: 144 });
countChart('mgNegChart', { counts: mgNegCounts, sig: mgNegSig, showX: false, top: 2.7, left: 10.7, cell: 18, bottom: 128 });
countChart('ripNegChart', { counts: ripNegCounts, sig: ripNegSig, showX: false, classes: negClasses, top: 2.7, left: 15.3, cell: 18, bottom: 128 });

// significance colour bar
new Chart(document.getElementById('sigBar'), {
  type: 'bar',
  data: {
    labels: ['sig'],
    datasets: [{
      data: [[1.7, 10]], barPercentage: 1, categoryPercentage: 1,
      backgroundColor: c => {
        const a = c.chart.chartArea;
        if (!a) return '#999';
        const g = c.chart.ctx.createLinearGradient(0, c.chart.scales.y.getPixelForValue(10), 0, c.chart.scales.y.getPixelForValue(2));
        g.addColorStop(0, sigColor(10));
        g.addColorStop(1, sigColor(2));
        return g;
      }
    }]
  },
  options: {
    layout: { padding: { top: 5.7, left: 11.7, bottom: 4.3 } },
    scales: {
      x: { display: false },
      y: {
        position: 'right', min: 1.7, max: 10,
        grid: { drawOnChartArea: false, tickLength: 3, tickColor: '#555' }, border: { display: false },
        afterBuildTicks: s => { s.ticks = sigTicks.map(value => ({ value })); },
        afterFit: s => { s.width = 26; s.paddingTop = s.paddingBottom = 0; },
        ticks: { padding: 1, color: '#2b2b2b', font: { size: 12 } }
      }
    }
  }
});
</script>
</body>
</html>
